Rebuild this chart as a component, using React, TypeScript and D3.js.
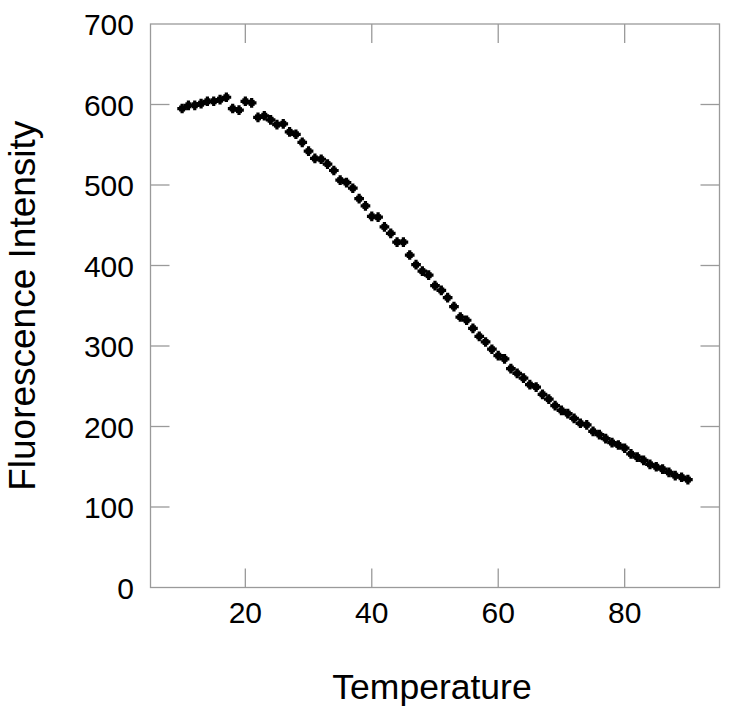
import * as d3 from "d3";

const temps = [
  10, 11, 12, 13, 14, 15, 16, 17, 18, 19, 20, 21, 22, 23, 24, 25, 26, 27, 28, 29,
  30, 31, 32, 33, 34, 35, 36, 37, 38, 39, 40, 41, 42, 43, 44, 45, 46, 47, 48, 49,
  50, 51, 52, 53, 54, 55, 56, 57, 58, 59, 60, 61, 62, 63, 64, 65, 66, 67, 68, 69,
  70, 71, 72, 73, 74, 75, 76, 77, 78, 79, 80, 81, 82, 83, 84, 85, 86, 87, 88, 89, 90,
];
const intensity = [
  595, 599, 599, 601, 604, 604, 606, 609, 595, 593, 604, 602, 584, 586, 581, 575, 576, 566, 563, 553,
  542, 533, 532, 526, 518, 506, 503, 496, 483, 474, 461, 460, 448, 440, 429, 429, 413, 401, 393, 388,
  375, 369, 360, 349, 336, 332, 322, 312, 305, 296, 288, 284, 272, 266, 260, 252, 249, 240, 234, 226,
  220, 216, 210, 204, 202, 194, 190, 185, 180, 177, 173, 166, 162, 158, 153, 150, 147, 143, 139, 137, 134,
];
const xTicks = [20, 40, 60, 80];
const yTicks = [0, 100, 200, 300, 400, 500, 600, 700];

export default function App() {
  const width = 729;
  const height = 721;
  const left = 150.5, right = 719.5, top = 24, bottom = 587.5;
  const x = d3.scaleLinear().domain([5, 95]).range([left, right]);
  const y = d3.scaleLinear().domain([0, 700]).range([bottom, top]);
  const tick = 19;
  const grey = "#9a9a9a";
  const font = "'Liberation Sans', Arial, sans-serif";
  const cross = d3.symbol().type(d3.symbolCross).size(52)();

  return (
    <svg width={width} height={height} style={{ position: "absolute", left: 0, top: 0, background: "#fff" }}>
      <rect x={left} y={top} width={right - left} height={bottom - top} fill="none" stroke={grey} strokeWidth={1.3} />
      {xTicks.map((t) => (
        <g key={"x" + t}>
          <line x1={x(t)} x2={x(t)} y1={bottom} y2={bottom - tick} stroke={grey} strokeWidth={1.3} />
          <line x1={x(t)} x2={x(t)} y1={top} y2={top + tick} stroke={grey} strokeWidth={1.3} />
          <text x={x(t)} y={623} textAnchor="middle" fontFamily={font} fontSize={30} fill="#000">{t}</text>
        </g>
      ))}
      {yTicks.map((t) => (
        <g key={"y" + t}>
          {t > 0 && t < 700 && (
            <>
              <line x1={left} x2={left + tick} y1={y(t)} y2={y(t)} stroke={grey} strokeWidth={1.3} />
              <line x1={right} x2={right - tick} y1={y(t)} y2={y(t)} stroke={grey} strokeWidth={1.3} />
            </>
          )}
          <text x={134} y={y(t) + 11} textAnchor="end" fontFamily={font} fontSize={30} fill="#000">{t}</text>
        </g>
      ))}
      <g fill="#000">
        {temps.map((t, i) => (
          <g key={i} transform={`translate(${x(t)},${y(intensity[i])})`}>
            <rect x={-3} y={-3} width={6} height={6} />
            <path d={cross} />
          </g>
        ))}
      </g>
      <text x={(left + right) / 2 - 3} y={699} textAnchor="middle" fontFamily={font} fontSize={35.5} fill="#000">Temperature</text>
      <text transform={`translate(35,${(top + bottom) / 2}) rotate(-90)`} textAnchor="middle" fontFamily={font} fontSize={37} fill="#000">Fluorescence Intensity</text>
    </svg>
  );
}
